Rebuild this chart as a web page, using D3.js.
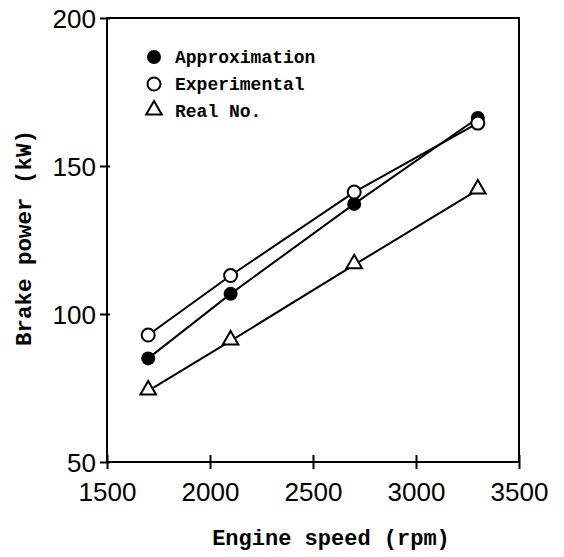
<!DOCTYPE html>
<html>
<head>
<meta charset="utf-8">
<script src="https://cdn.jsdelivr.net/npm/d3@7"></script>
<style>
  body { margin: 0; background: #fff; }
  svg { display: block; }
</style>
</head>
<body>
<svg id="chart" width="564" height="557"></svg>
<script>
// engine speed (rpm) and brake power (kW)
var speeds = [1700, 2100, 2700, 3300];
var approximation = [85, 106.8, 137.2, 166.2];
var experimental = [92.9, 113, 141.2, 164.5];
var realNo = [74, 90.9, 116.6, 141.9];

var seriesNames = ["Approximation", "Experimental", "Real No."];
var seriesMarks = ["filled", "open", "triangle"];

var xTicks = [1500, 2000, 2500, 3000, 3500];
var yTicks = [50, 100, 150, 200];

var svg = d3.select("#chart"),
    margin = { top: 18, right: 45, bottom: 95, left: 107 },
    iwidth = +svg.attr("width") - margin.left - margin.right,
    iheight = +svg.attr("height") - margin.top - margin.bottom,
    g = svg.append("g").attr("transform", "translate(" + margin.left + "," + margin.top + ")");

var x = d3.scaleLinear().domain([1500, 3500]).range([0, iwidth]);
var y = d3.scaleLinear().domain([50, 200]).range([iheight, 0]);

var tickFont = "'Liberation Sans', Arial, sans-serif";
var titleFont = "'Liberation Mono', 'Courier New', monospace";

// frame
g.append("rect")
  .attr("x", 0).attr("y", 0)
  .attr("width", iwidth).attr("height", iheight)
  .style("fill", "none").style("stroke", "#000").style("stroke-width", 2);

// x axis
var xAxis = g.append("g")
  .attr("transform", "translate(0," + iheight + ")")
  .call(d3.axisBottom(x).tickValues(xTicks).tickSize(7).tickPadding(14).tickFormat(d3.format("d")));
xAxis.select(".domain").remove();
xAxis.selectAll(".tick line").attr("y1", -7).attr("y2", 7).style("stroke-width", 2);
xAxis.selectAll(".tick text")
  .style("font-family", tickFont).style("font-size", "26px").attr("fill", "#000");

// y axis
var yAxis = g.append("g")
  .call(d3.axisLeft(y).tickValues(yTicks).tickSize(7).tickPadding(4).tickFormat(d3.format("d")));
yAxis.select(".domain").remove();
yAxis.selectAll(".tick line").attr("x1", -7).attr("x2", 3).style("stroke-width", 2);
yAxis.selectAll(".tick text")
  .attr("dy", "0.36em")
  .style("font-family", tickFont).style("font-size", "26px").attr("fill", "#000");

// axis titles
svg.append("text")
  .attr("x", 331).attr("y", 545)
  .attr("text-anchor", "middle")
  .style("font-family", titleFont).style("font-weight", "bold").style("font-size", "22px")
  .text("Engine speed (rpm)");

svg.append("text")
  .attr("transform", "translate(31,238) rotate(-90)")
  .attr("text-anchor", "middle")
  .style("font-family", titleFont).style("font-weight", "bold").style("font-size", "22.5px")
  .text("Brake power (kW)");

// series
var table = [approximation, experimental, realNo].map(function(vals, i) {
  return { name: seriesNames[i], mark: seriesMarks[i],
           points: speeds.map(function(s, j) { return { x: s, y: vals[j] }; }) };
});

var line = d3.line().x(d => x(d.x)).y(d => y(d.y));

g.selectAll(".series")
  .data(table)
  .enter().append("path")
  .attr("class", "series")
  .attr("d", d => line(d.points))
  .style("fill", "none").style("stroke", "#000").style("stroke-width", 2);

var tri = d3.symbol().type(d3.symbolTriangle).size(105);

function drawMark(sel, kind) {
  if (kind == "filled") {
    sel.append("circle").attr("r", 7).style("fill", "#000");
  } else if (kind == "open") {
    sel.append("circle").attr("r", 6.5).style("fill", "#fff").style("stroke", "#000").style("stroke-width", 2);
  } else {
    sel.append("path").attr("d", tri()).attr("transform", "translate(0,-1)")
      .style("fill", "#fff").style("stroke", "#000").style("stroke-width", 2);
  }
}

table.forEach(function(s) {
  g.selectAll(null)
    .data(s.points)
    .enter().append("g")
    .attr("transform", d => "translate(" + x(d.x) + "," + y(d.y) + ")")
    .each(function() { drawMark(d3.select(this), s.mark); });
});

// legend
var legend = svg.append("g")
  .selectAll("g")
  .data(table)
  .enter().append("g")
  .attr("transform", (d, i) => "translate(154," + (57 + i * 27) + ")");

legend.each(function(d) { drawMark(d3.select(this), d.mark); });

legend.append("text")
  .attr("x", 21).attr("dy", "0.35em")
  .style("font-family", titleFont).style("font-weight", "bold").style("font-size", "18px")
  .text(d => d.name);
</script>
</body>
</html>
